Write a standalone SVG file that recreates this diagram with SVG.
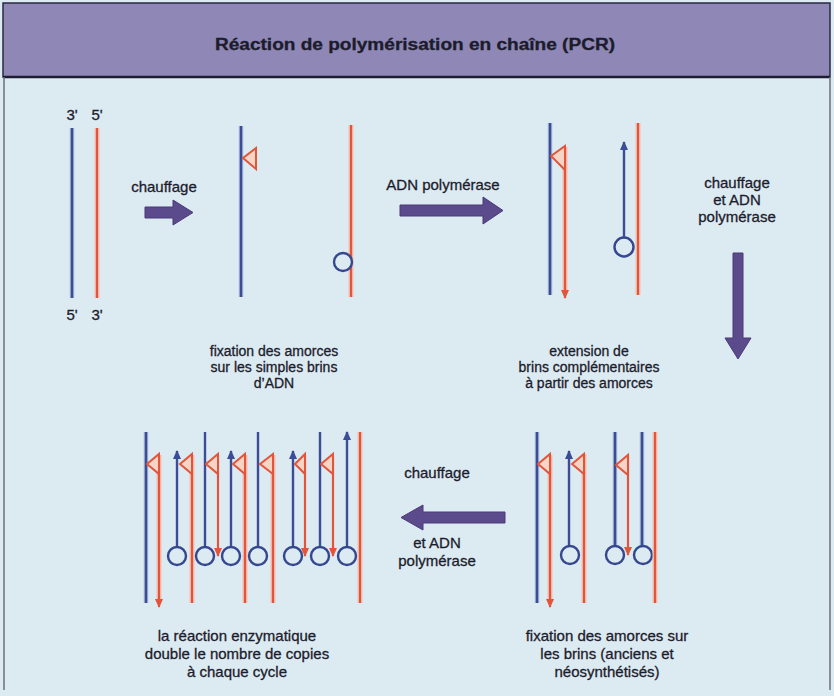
<svg xmlns="http://www.w3.org/2000/svg" width="834" height="696" viewBox="0 0 834 696">
<defs>
<style>
.t{font-family:"Liberation Sans",Arial,sans-serif;font-size:14px;fill:#1c1c2c;stroke:#1c1c2c;stroke-width:0.3;text-anchor:middle}
.tl{font-size:15px}
.b{stroke:#3a4d95;stroke-width:2.4;fill:none}
.bh{stroke:#a9b9d9;stroke-width:4.5;fill:none}
.r{stroke:#e2553b;stroke-width:2.2;fill:none}
.rh{stroke:#f3c0b2;stroke-width:5;fill:none}
.c{stroke:#34478f;stroke-width:2.4;fill:#dceaf2}
.p{stroke:#e2553b;stroke-width:2;fill:#f6d4c6;stroke-linejoin:miter}
.arw{fill:#5b4a8c;stroke:#4a3b78;stroke-width:1}
</style>
<marker id="ab" markerUnits="userSpaceOnUse" markerWidth="9" markerHeight="9" viewBox="0 0 10 10" refX="9" refY="5" orient="auto">
<path d="M0,0.5 L10,5 L0,9.5 z" fill="#3a4d95"/>
</marker>
<marker id="ar" markerUnits="userSpaceOnUse" markerWidth="9" markerHeight="9" viewBox="0 0 10 10" refX="9" refY="5" orient="auto">
<path d="M0,0.5 L10,5 L0,9.5 z" fill="#e2553b"/>
</marker>
</defs>
<rect x="0" y="0" width="834" height="696" fill="#dceaf2"/>
<rect x="3" y="3" width="827" height="74" fill="#8f88b6" stroke="#2a2840" stroke-width="1.5"/>
<line x1="3" y1="77" x2="830" y2="77" stroke="#1e1c30" stroke-width="2.5"/>
<line x1="4" y1="77" x2="4" y2="690" stroke="#6d6f78" stroke-width="1.5"/>
<line x1="830" y1="77" x2="830" y2="690" stroke="#6d6f78" stroke-width="1.5"/>
<text x="415" y="50" class="t" style="font-weight:bold;font-size:16px" textLength="400" lengthAdjust="spacingAndGlyphs">Réaction de polymérisation en chaîne (PCR)</text>

<g id="stage1">
<line class="bh" x1="72" y1="128" x2="72" y2="298"/><line class="b" x1="72" y1="128" x2="72" y2="298"/>
<line class="rh" x1="97" y1="128" x2="97" y2="298"/><line class="r" x1="97" y1="128" x2="97" y2="298"/>
<text class="t tl" x="72" y="120">3'</text><text class="t tl" x="97" y="120">5'</text>
<text class="t tl" x="72" y="320">5'</text><text class="t tl" x="97" y="320">3'</text>
</g>

<g id="stage2">
<line class="bh" x1="241" y1="126" x2="241" y2="297"/><line class="b" x1="241" y1="126" x2="241" y2="297"/>
<polygon class="p" points="243,158 256,148 256,169"/>
<line class="rh" x1="351" y1="125" x2="351" y2="297"/><line class="r" x1="351" y1="125" x2="351" y2="297"/>
<circle class="c" cx="343" cy="262" r="9"/>
<text class="t" x="274" y="356">fixation des amorces</text>
<text class="t" x="274" y="372">sur les simples brins</text>
<text class="t" x="274" y="388">d’ADN</text>
</g>

<g id="stage3">
<line class="bh" x1="550" y1="123" x2="550" y2="295"/><line class="b" x1="550" y1="123" x2="550" y2="295"/>
<line class="rh" x1="565" y1="147" x2="565" y2="291"/><line class="r" x1="565" y1="147" x2="565" y2="298" marker-end="url(#ar)"/>
<polygon class="p" points="551,156 565,146 565,170"/>
<line class="b" x1="624" y1="238" x2="624" y2="142" marker-end="url(#ab)"/>
<circle class="c" cx="624" cy="247" r="9.5"/>
<line class="rh" x1="638" y1="123" x2="638" y2="295"/><line class="r" x1="638" y1="123" x2="638" y2="295"/>
<text class="t" x="589" y="356">extension de</text>
<text class="t" x="589" y="372">brins complémentaires</text>
<text class="t" x="589" y="388">à partir des amorces</text>
</g>

<g id="stage4">
<line class="bh" x1="537" y1="432" x2="537" y2="603"/><line class="b" x1="537" y1="432" x2="537" y2="603"/>
<line class="rh" x1="550" y1="455" x2="550" y2="600"/><line class="r" x1="550" y1="455" x2="550" y2="607" marker-end="url(#ar)"/>
<polygon class="p" points="538,464 550,454 550,474"/>
<line class="b" x1="569" y1="546" x2="569" y2="451" marker-end="url(#ab)"/>
<circle class="c" cx="570" cy="555" r="9"/>
<line class="rh" x1="584" y1="454" x2="584" y2="603"/><line class="r" x1="584" y1="454" x2="584" y2="603"/>
<polygon class="p" points="572,464 584,454 584,474"/>
<line class="bh" x1="615" y1="432" x2="615" y2="546"/><line class="b" x1="615" y1="432" x2="615" y2="546"/>
<circle class="c" cx="615" cy="555" r="9"/>
<line class="r" x1="628" y1="455" x2="628" y2="555" marker-end="url(#ar)"/>
<polygon class="p" points="616,465 628,455 628,475"/>
<line class="bh" x1="642" y1="432" x2="642" y2="546"/><line class="b" x1="642" y1="432" x2="642" y2="546"/>
<circle class="c" cx="643" cy="555" r="9"/>
<line class="rh" x1="655" y1="432" x2="655" y2="603"/><line class="r" x1="655" y1="432" x2="655" y2="603"/>
<text class="t tl" x="607" y="641">fixation des amorces sur</text>
<text class="t tl" x="607" y="659">les brins (anciens et</text>
<text class="t tl" x="607" y="677">néosynthétisés)</text>
</g>

<g id="stage5">
<line class="bh" x1="146" y1="432" x2="146" y2="603"/><line class="b" x1="146" y1="432" x2="146" y2="603"/>
<line class="rh" x1="159" y1="455" x2="159" y2="600"/><line class="r" x1="159" y1="455" x2="159" y2="607" marker-end="url(#ar)"/>
<polygon class="p" points="147,464 159,454 159,474"/>
<line class="b" x1="177" y1="547" x2="177" y2="451" marker-end="url(#ab)"/>
<circle class="c" cx="177" cy="556" r="9"/>
<line class="rh" x1="192" y1="455" x2="192" y2="603"/><line class="r" x1="192" y1="455" x2="192" y2="603"/>
<polygon class="p" points="180,464 192,454 192,474"/>
<line class="b" x1="205" y1="432" x2="205" y2="547"/>
<circle class="c" cx="205" cy="556" r="9"/>
<line class="r" x1="218" y1="455" x2="218" y2="556" marker-end="url(#ar)"/>
<polygon class="p" points="206,464 218,454 218,474"/>
<line class="b" x1="231" y1="547" x2="231" y2="451" marker-end="url(#ab)"/>
<circle class="c" cx="231" cy="556" r="9"/>
<line class="rh" x1="245" y1="455" x2="245" y2="603"/><line class="r" x1="245" y1="455" x2="245" y2="603"/>
<polygon class="p" points="233,464 245,454 245,474"/>
<line class="b" x1="258" y1="432" x2="258" y2="547"/>
<circle class="c" cx="258" cy="556" r="9"/>
<line class="rh" x1="273" y1="455" x2="273" y2="603"/><line class="r" x1="273" y1="455" x2="273" y2="603"/>
<polygon class="p" points="260,464 273,454 273,474"/>
<line class="b" x1="293" y1="547" x2="293" y2="451" marker-end="url(#ab)"/>
<circle class="c" cx="293" cy="556" r="9"/>
<line class="r" x1="305" y1="455" x2="305" y2="556" marker-end="url(#ar)"/>
<polygon class="p" points="295,464 305,454 305,474"/>
<line class="b" x1="320" y1="432" x2="320" y2="547"/>
<circle class="c" cx="320" cy="556" r="9"/>
<line class="r" x1="333" y1="455" x2="333" y2="556" marker-end="url(#ar)"/>
<polygon class="p" points="321,464 333,454 333,474"/>
<line class="b" x1="347" y1="547" x2="347" y2="432" marker-end="url(#ab)"/>
<circle class="c" cx="347" cy="556" r="9"/>
<line class="rh" x1="360" y1="432" x2="360" y2="603"/><line class="r" x1="360" y1="432" x2="360" y2="603"/>
<text class="t tl" x="237" y="641">la réaction enzymatique</text>
<text class="t tl" x="237" y="659">double le nombre de copies</text>
<text class="t tl" x="237" y="677">à chaque cycle</text>
</g>

<g id="connectors">
<text class="t tl" x="164" y="192">chauffage</text>
<path class="arw" d="M145,207 H173 V200 L193,212.5 L173,225 V218 H145 Z"/>
<text class="t tl" x="443" y="190">ADN polymérase</text>
<path class="arw" d="M400,205 H483 V197 L503,210.5 L483,224 V216 H400 Z"/>
<text class="t tl" x="737" y="188">chauffage</text>
<text class="t tl" x="737" y="205">et ADN</text>
<text class="t tl" x="737" y="222">polymérase</text>
<path class="arw" d="M733,253 H743 V338 H751 L738,359 L725,338 H733 Z"/>
<text class="t tl" x="437" y="478">chauffage</text>
<path class="arw" d="M505,512 H423 V505 L401,517.5 L423,530 V523 H505 Z"/>
<text class="t tl" x="437" y="548">et ADN</text>
<text class="t tl" x="437" y="566">polymérase</text>
</g>
</svg>
